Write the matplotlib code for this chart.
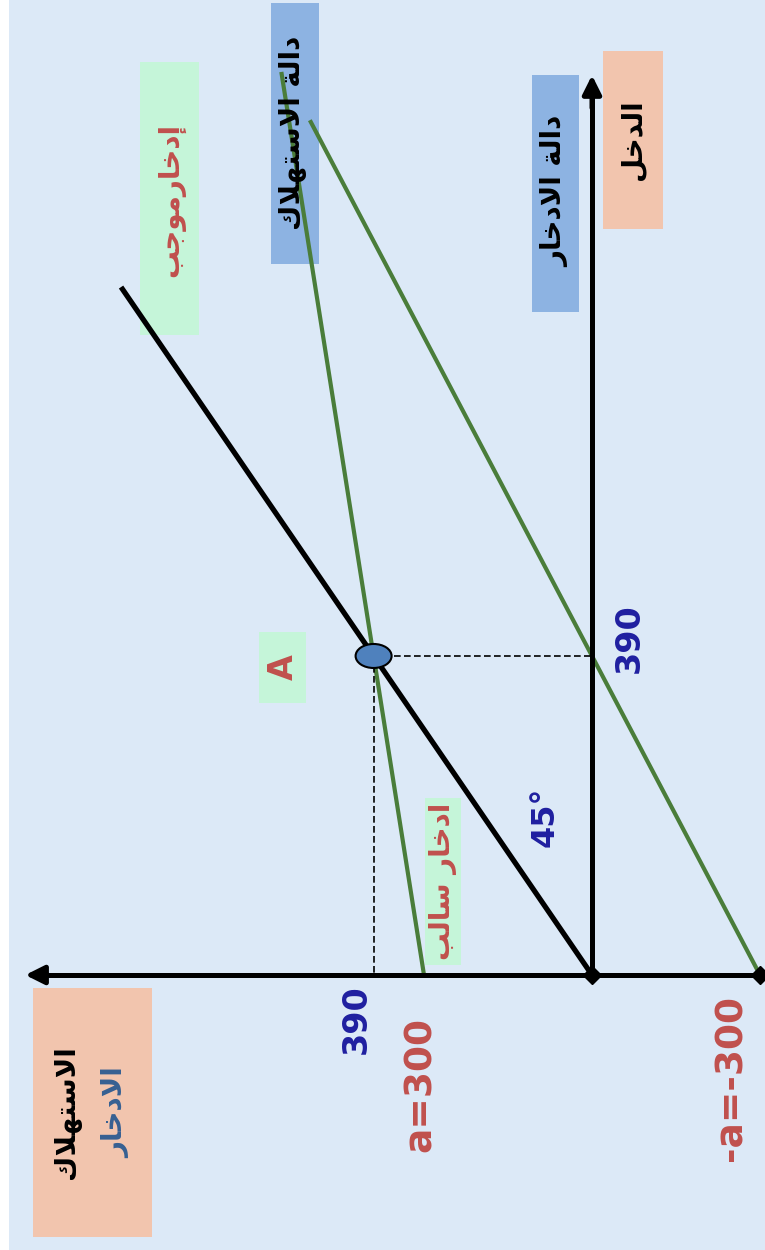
import matplotlib
matplotlib.use("Agg")
import matplotlib.pyplot as plt
from matplotlib.patches import Rectangle, Ellipse

# ---------------------------------------------------------------------------
# Model values (Keynesian consumption / saving functions)
# ---------------------------------------------------------------------------
autonomous = 300            # a
equilibrium_income = 390    # Y* where C = Y (point A)
mpc = (equilibrium_income - autonomous) / equilibrium_income   # b
mps = 1 - mpc

# income ranges over which each line is drawn
consumption_y_range = [0, 1104]
saving_y_range = [0, 1045]
diagonal_y_range = [0, 841]

# labels (logical Arabic text, shaped below)
lbl_income = "الدخل"
lbl_cons_axis = "الاستهلاك"
lbl_save_axis = "الادخار"
lbl_cons_fn = "دالة الاستهلاك"
lbl_save_fn = "دالة الادخار"
lbl_pos_saving = "إدخارموجب"
lbl_neg_saving = "ادخار سالب"

# ---------------------------------------------------------------------------
# Minimal Arabic contextual shaping (presentation forms) + visual ordering
# ---------------------------------------------------------------------------
FORMS = {
    'ا': ('\uFE8D', '\uFE8E', None, None),
    'إ': ('\uFE87', '\uFE88', None, None),
    'ب': ('\uFE8F', '\uFE90', '\uFE91', '\uFE92'),
    'ة': ('\uFE93', '\uFE94', None, None),
    'ت': ('\uFE95', '\uFE96', '\uFE97', '\uFE98'),
    'ج': ('\uFE9D', '\uFE9E', '\uFE9F', '\uFEA0'),
    'خ': ('\uFEA5', '\uFEA6', '\uFEA7', '\uFEA8'),
    'د': ('\uFEA9', '\uFEAA', None, None),
    'ر': ('\uFEAD', '\uFEAE', None, None),
    'س': ('\uFEB1', '\uFEB2', '\uFEB3', '\uFEB4'),
    'ك': ('\uFED9', '\uFEDA', '\uFEDB', '\uFEDC'),
    'ل': ('\uFEDD', '\uFEDE', '\uFEDF', '\uFEE0'),
    'م': ('\uFEE1', '\uFEE2', '\uFEE3', '\uFEE4'),
    'ه': ('\uFEE9', '\uFEEA', '\uFEEB', '\uFEEC'),
    'و': ('\uFEED', '\uFEEE', None, None),
    'لا': ('\uFEFB', '\uFEFC', None, None),
    'لإ': ('\uFEF9', '\uFEFA', None, None),
}


def shape(text):
    units, i = [], 0
    while i < len(text):
        pair = text[i:i + 2]
        if len(pair) == 2 and pair in FORMS:
            units.append(pair)
            i += 2
        else:
            units.append(text[i])
            i += 1
    out = []
    for k, u in enumerate(units):
        if u not in FORMS:
            out.append(u)
            continue
        iso, fin, ini, med = FORMS[u]
        prev = units[k - 1] if k > 0 else None
        nxt = units[k + 1] if k + 1 < len(units) else None
        join_prev = prev in FORMS and FORMS[prev][2] is not None
        join_next = ini is not None and nxt in FORMS
        if join_prev and join_next:
            out.append(med)
        elif join_prev:
            out.append(fin)
        elif join_next:
            out.append(ini)
        else:
            out.append(iso)
    return ''.join(reversed(out))


# ---------------------------------------------------------------------------
# Figure: the diagram is drawn turned a quarter turn, so the plot's
# horizontal coordinate is -C (consumption / saving) and vertical is Y.
# ---------------------------------------------------------------------------
W, H = 765, 1250
OX, OY = 592, 975            # origin in pixels
SC, SY = 0.56, 0.818         # pixels per unit on the C and Y directions

fig = plt.figure(figsize=(W / 100, H / 100), dpi=100)
fig.patch.set_facecolor('#dce9f7')
ax = fig.add_axes([0, 0, 1, 1])
ax.set_xlim((0 - OX) / SC, (W - OX) / SC)
ax.set_ylim((OY - H) / SY, OY / SY)
ax.set_facecolor('#dce9f7')
ax.axis('off')

fig.add_artist(Rectangle((0, 0), 9 / W, 1, transform=fig.transFigure,
                         facecolor='white', edgecolor='none', zorder=0))


def P(c, y):
    """(value on C axis, income) -> plot coordinates."""
    return -c, y


def box(x0, x1, y0, y1, color):
    ax.add_patch(Rectangle((x0 / W, 1 - y1 / H), (x1 - x0) / W, (y1 - y0) / H,
                           transform=fig.transFigure, facecolor=color,
                           edgecolor='none', zorder=1, clip_on=False))


def label(x, y, s, color, size, **kw):
    ax.text(x / W, 1 - y / H, s, transform=fig.transFigure, rotation=90,
            ha='center', va='center', color=color, fontsize=size,
            fontweight='bold', zorder=6, **kw)


GREEN_BOX = '#c5f5d9'
BLUE_BOX = '#8db3e2'
SALMON = '#f2c5ae'
RED = '#c0504d'
NAVY = '#1f1fa0'
LINE_GREEN = '#4a7d3a'

# label boxes
box(33, 152, 988, 1237, SALMON)
box(603, 663, 51, 229, SALMON)
box(532, 579, 75, 312, BLUE_BOX)
box(271, 319, 3, 264, BLUE_BOX)
box(140, 199, 62, 335, GREEN_BOX)
box(425, 461, 798, 965, GREEN_BOX)
box(259, 306, 632, 703, GREEN_BOX)

# axes: consumption/saving axis (horizontal on page) and income axis
c_axis_ends = [-300, 1012]
y_axis_top = 1100
x0, y0 = P(c_axis_ends[0], 0)
x1, y1 = P(c_axis_ends[1], 0)
ax.plot([x0, x1 + 30], [y0, y1], color='black', lw=3.6, zorder=3,
        solid_capstyle='butt')
ax.annotate('', xy=(x1, y1), xytext=(x1 + 40, y1),
            arrowprops=dict(arrowstyle='-|>', color='black', lw=3.6,
                            mutation_scale=28, shrinkA=0, shrinkB=0), zorder=3)
ax.plot([x0], [y0], marker='D', color='black', ms=9, zorder=3)
ox, oy = P(0, 0)
ax.plot([ox], [oy], marker='D', color='black', ms=9, zorder=3)
tx, ty = P(0, y_axis_top)
ax.plot([ox, ox], [oy, ty - 30], color='black', lw=3.6, zorder=3)
ax.annotate('', xy=(tx, ty), xytext=(tx, ty - 40),
            arrowprops=dict(arrowstyle='-|>', color='black', lw=3.6,
                            mutation_scale=28, shrinkA=0, shrinkB=0), zorder=3)

# 45-degree line C = Y
d = [P(y, y) for y in diagonal_y_range]
ax.plot([p[0] for p in d], [p[1] for p in d], color='black', lw=3.8,
        zorder=2, solid_capstyle='butt')

# consumption function C = a + bY
cons = [P(autonomous + mpc * y, y) for y in consumption_y_range]
ax.plot([p[0] for p in cons], [p[1] for p in cons], color=LINE_GREEN, lw=3.0,
        zorder=2, solid_capstyle='butt')

# saving function S = -a + (1-b)Y
sav = [P(-autonomous + mps * y, y) for y in saving_y_range]
ax.plot([p[0] for p in sav], [p[1] for p in sav], color=LINE_GREEN, lw=3.0,
        zorder=2, solid_capstyle='butt')

# equilibrium point A and its guides
ax_, ay_ = P(equilibrium_income, equilibrium_income)
ax.plot([ax_, ox], [ay_, ay_], color='black', lw=1.2, ls=(0, (4, 2)), zorder=2)
ax.plot([ax_, ax_], [ay_, 0], color='black', lw=1.2, ls=(0, (4, 2)), zorder=2)
ax.add_patch(Ellipse((ax_, ay_), 36 / SC, 24 / SY, facecolor='#4f81bd',
                     edgecolor='black', lw=1.5, zorder=5))

# numeric labels
label(356, 1019, f"{equilibrium_income}", NAVY, 24)
label(629, 638, f"{equilibrium_income}", NAVY, 24)
label(421, 1084, f"a={autonomous}", RED, 27)
label(731, 1078, f"-a=-{autonomous}", RED, 27)
label(545, 817, "45°", NAVY, 23)
label(283, 667, "A", RED, 24)

# Arabic labels
AR = dict(family=['DejaVu Sans'])
label(633, 140, shape(lbl_income), 'black', 20, **AR)
label(67, 1112, shape(lbl_cons_axis), 'black', 20, **AR)
label(116, 1113, shape(lbl_save_axis), '#366092', 20, **AR)
label(293, 133, shape(lbl_cons_fn), 'black', 20, **AR)
label(555, 191, shape(lbl_save_fn), 'black', 20, **AR)
label(171, 200, shape(lbl_pos_saving), RED, 20, **AR)
label(443, 881, shape(lbl_neg_saving), RED, 20, **AR)

fig.savefig('out.png', dpi=100, facecolor=fig.get_facecolor())
